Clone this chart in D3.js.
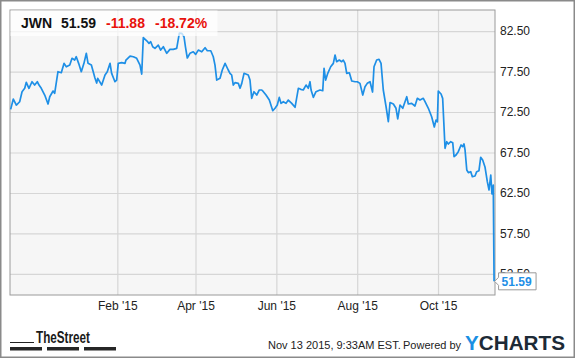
<!DOCTYPE html>
<html>
<head>
<meta charset="utf-8">
<script src="https://cdn.jsdelivr.net/npm/d3@7"></script>
<style>
  body { margin: 0; background: #fff; }
  svg { display: block; font-family: "Liberation Sans", Arial, sans-serif; }
</style>
</head>
<body>
<div id="chart"></div>
<script>
const ticker = "JWN";
const lastPrice = 51.59;
const change = -11.88;
const changePct = -18.72;
const stamp = "Nov 13 2015, 9:33AM EST.";

// one year window, offsets in days from the start
const startDate = new Date(2014, 10, 12);
const endDate = new Date(2015, 10, 13);

const dayOffsets = [
  0.5, 2.5, 4.8, 7.3, 9.1, 11.1, 12.3, 14.3, 16.6, 18.6,
  20.6, 21.9, 23.6, 26.2, 28.7, 30.0, 32.5, 33.7, 36.2, 38.7,
  40.8, 42.5, 45.1, 46.8, 48.8, 50.0, 51.8, 53.8, 55.8, 57.6,
  58.9, 61.4, 64.1, 65.4, 66.2, 69.2, 71.7, 73.4, 75.5, 76.7,
  79.2, 80.5, 81.7, 84.3, 86.8, 87.5, 90.6, 93.1, 95.6, 98.1,
  99.4, 100.6, 103.2, 104.9, 106.2, 107.7, 109.4, 111.9, 113.7, 115.7,
  118.3, 120.7, 123.2, 125.8, 127.8, 129.6, 131.3, 132.4, 133.8, 135.8,
  138.3, 140.1, 142.1, 144.7, 147.2, 148.9, 151.5, 153.4, 154.7, 156.0,
  158.5, 160.2, 162.3, 164.7, 166.0, 167.3, 168.5, 169.8, 172.3, 173.6,
  174.9, 176.6, 179.8, 181.1, 182.4, 184.1, 186.2, 188.1, 190.0, 191.2,
  193.2, 195.7, 198.3, 200.0, 201.7, 203.2, 204.5, 206.3, 208.3, 210.0,
  212.6, 215.1, 217.6, 219.4, 221.3, 223.4, 225.1, 226.4, 227.2, 228.9,
  230.9, 233.9, 236.0, 237.0, 238.2, 239.8, 242.0, 244.0, 245.3, 246.5,
  248.5, 250.3, 251.5, 252.8, 254.1, 256.1, 257.9, 260.4, 262.1, 264.1,
  266.2, 267.9, 269.6, 271.7, 273.6, 274.7, 276.7, 278.5, 280.0, 281.7,
  283.8, 285.5, 286.8, 289.3, 291.3, 292.6, 294.3, 296.4, 299.4, 300.6,
  303.1, 305.6, 307.4, 309.4, 311.9, 313.2, 315.7, 318.2, 320.2, 321.5,
  322.5, 323.2, 325.3, 326.5, 328.3, 329.6, 330.8, 332.6, 334.1, 335.1,
  336.6, 338.3, 340.4, 341.6, 342.6, 343.4, 344.7, 345.9, 347.7, 348.9,
  350.9, 352.2, 353.9, 355.2, 356.7, 358.5, 360.2, 361.5, 362.8, 363.7,
  364.3, 364.7, 365.3
];

const prices = [
  72.83, 74.10, 73.36, 73.77, 75.01, 75.43, 76.17, 75.43, 76.24, 75.83,
  76.24, 75.83, 75.43, 74.60, 73.49, 74.39, 75.09, 74.81, 77.48, 77.35,
  78.51, 78.09, 78.30, 79.13, 78.92, 79.33, 78.51, 77.48, 78.51, 79.75,
  78.51, 78.30, 76.70, 76.08, 76.66, 75.83, 77.07, 77.48, 78.51, 77.28,
  76.24, 76.45, 78.51, 78.59, 78.51, 78.92, 79.41, 79.33, 79.13, 78.30,
  77.19, 81.70, 81.30, 80.98, 81.18, 80.56, 80.36, 80.77, 80.15, 80.56,
  79.75, 80.24, 80.24, 80.36, 82.25, 82.22, 81.80, 80.56, 79.17, 79.75,
  79.94, 79.62, 80.15, 79.94, 80.44, 80.07, 80.07, 79.33, 78.30, 76.45,
  76.66, 77.69, 78.51, 77.69, 77.28, 77.07, 75.83, 76.12, 76.04, 75.43,
  76.04, 77.28, 77.07, 76.45, 74.19, 75.01, 74.60, 75.22, 75.22, 75.01,
  74.60, 73.98, 72.66, 72.96, 73.36, 74.31, 73.57, 73.77, 73.57, 73.98,
  73.57, 73.08, 75.43, 75.30, 75.22, 75.83, 75.43, 76.24, 75.22, 74.31,
  75.01, 75.22, 75.13, 77.90, 76.45, 77.28, 78.09, 78.51, 79.54, 78.71,
  78.92, 78.71, 78.92, 78.51, 77.28, 77.35, 76.33, 76.24, 76.24, 76.04,
  74.60, 75.62, 76.04, 76.24, 74.97, 78.09, 78.92, 79.01, 78.51, 75.22,
  73.15, 71.30, 73.67, 73.49, 72.96, 71.64, 73.36, 72.96, 74.39, 73.49,
  73.57, 73.24, 74.19, 73.98, 74.19, 73.77, 72.96, 71.92, 70.65, 71.51,
  71.30, 75.09, 74.72, 74.19, 68.02, 68.83, 68.55, 68.83, 68.71, 66.98,
  67.19, 67.60, 68.43, 68.22, 68.55, 67.81, 65.34, 65.01, 65.13, 64.51,
  64.60, 65.13, 65.25, 66.91, 66.57, 65.67, 63.90, 62.87, 64.72, 62.38,
  63.00, 63.47, 51.59
];

const yTicks = [52.5, 57.5, 62.5, 67.5, 72.5, 77.5, 82.5];
const xTicks = ["2015-02-01", "2015-04-01", "2015-06-01", "2015-08-01", "2015-10-01"];

const W = 575, H = 358;
const margin = {top: 10, right: 80, bottom: 63, left: 10},
    width = W - margin.left - margin.right,
    height = H - margin.top - margin.bottom;

const parseDay = d3.timeParse("%Y-%m-%d");
const data = prices.map((p, i) => ({
  date: new Date(startDate.getTime() + dayOffsets[i] * 864e5),
  price: p
}));

const root = d3.select("#chart").append("svg")
    .attr("width", W)
    .attr("height", H);

root.append("rect")
    .attr("x", 0.75).attr("y", 0.75)
    .attr("width", W - 1.5).attr("height", H - 1.5)
    .attr("fill", "#fff")
    .attr("stroke", "#8a8a8a")
    .attr("stroke-width", 1.5);

const svg = root.append("g")
    .attr("transform", `translate(${margin.left},${margin.top})`);

const x = d3.scaleTime()
    .domain([startDate, endDate])
    .range([0, width]);

const y = d3.scaleLinear()
    .domain([49.9, 85.1])
    .range([height, 0]);

svg.append("rect")
    .attr("width", width).attr("height", height)
    .attr("fill", "#f6f6f6");

// grid
svg.append("g")
    .call(d3.axisLeft(y).tickValues(yTicks).tickSize(-width).tickFormat(""))
    .call(g => g.select(".domain").remove())
    .call(g => g.selectAll("line").attr("stroke", "#d6d6d6").attr("stroke-width", 1.2));

svg.append("g")
    .attr("transform", `translate(0,${height})`)
    .call(d3.axisBottom(x).tickValues(xTicks.map(parseDay)).tickSize(height).tickFormat(""))
    .call(g => g.select(".domain").remove())
    .call(g => g.selectAll("line").attr("transform", `translate(0,${-height})`)
        .attr("stroke", "#d6d6d6").attr("stroke-width", 1.2));

// labels
svg.append("g")
    .attr("transform", `translate(${width},0)`)
    .call(d3.axisRight(y).tickValues(yTicks).tickSize(0).tickPadding(5).tickFormat(d3.format(".2f")))
    .call(g => g.select(".domain").remove())
    .call(g => g.selectAll("text").attr("font-size", 12).attr("fill", "#222")
        .attr("font-family", '"Liberation Sans", Arial, sans-serif'));

svg.append("g")
    .attr("transform", `translate(0,${height})`)
    .call(d3.axisBottom(x).tickValues(xTicks.map(parseDay)).tickSize(0).tickPadding(6)
        .tickFormat(d3.timeFormat("%b '%y")))
    .call(g => g.select(".domain").remove())
    .call(g => g.selectAll("text").attr("font-size", 12).attr("fill", "#222")
        .attr("font-family", '"Liberation Sans", Arial, sans-serif'));

svg.append("rect")
    .attr("width", width).attr("height", height)
    .attr("fill", "none")
    .attr("stroke", "#9a9a9a");

svg.append("path")
    .datum(data)
    .attr("fill", "none")
    .attr("stroke", "#1e8fe6")
    .attr("stroke-width", 1.7)
    .attr("stroke-linejoin", "round")
    .attr("d", d3.line()
      .x(function(d) { return x(d.date) })
      .y(function(d) { return y(d.price) })
      );

// header box
svg.append("rect")
    .attr("x", 0.5).attr("y", 0.5)
    .attr("width", 207).attr("height", 25.5)
    .attr("fill", "#fff").attr("opacity", 0.72);

const head = svg.append("text")
    .attr("y", 18)
    .attr("font-size", 14)
    .attr("font-weight", "bold");
head.append("tspan").attr("x", 11).attr("fill", "#111").text(ticker);
head.append("tspan").attr("x", 51).attr("fill", "#111").text(lastPrice.toFixed(2));
head.append("tspan").attr("x", 96).attr("fill", "#e8120c").text(change.toFixed(2));
head.append("tspan").attr("x", 145).attr("fill", "#e8120c").text(changePct.toFixed(2) + "%");

// last price flag
const ly = y(lastPrice);
const lx = x(data[data.length - 1].date);
svg.append("path")
    .attr("d", `M${lx + 0.5},${ly} L${lx + 4.5},${ly - 4} L${lx + 4.5},${ly - 8.5} L${lx + 42},${ly - 8.5} L${lx + 42},${ly + 8.5} L${lx + 4.5},${ly + 8.5} L${lx + 4.5},${ly + 4} Z`)
    .attr("fill", "#fff")
    .attr("stroke", "#9a9a9a");
svg.append("text")
    .attr("x", lx + 7.5).attr("y", ly + 4.5)
    .attr("font-size", 12).attr("font-weight", "bold")
    .attr("fill", "#1e8fe6")
    .text(lastPrice.toFixed(2));

// footer
root.append("line")
    .attr("x1", 10).attr("x2", 34).attr("y1", 342.5).attr("y2", 342.5)
    .attr("stroke", "#222");
root.append("text")
    .attr("x", 36).attr("y", 342.5)
    .attr("font-family", '"Liberation Sans Narrow", "Liberation Sans", Arial, sans-serif')
    .attr("font-weight", "bold").attr("font-size", 17)
    .attr("textLength", 54).attr("lengthAdjust", "spacingAndGlyphs")
    .attr("fill", "#1a1a1a")
    .text("TheStreet");
root.selectAll("rect.bar")
    .data([[10, 42], [47, 79], [84, 116]])
  .enter().append("rect")
    .attr("class", "bar")
    .attr("x", d => d[0]).attr("width", d => d[1] - d[0])
    .attr("y", 347).attr("height", 3.5)
    .attr("fill", "#262626");

root.append("text")
    .attr("x", 268).attr("y", 349)
    .attr("font-size", 11).attr("fill", "#222")
    .text(stamp);
root.append("text")
    .attr("x", 403).attr("y", 349)
    .attr("font-size", 11).attr("fill", "#222")
    .text("Powered by");
const yc = root.append("text")
    .attr("x", 465).attr("y", 349.5)
    .attr("font-size", 20).attr("font-weight", "bold")
    .attr("textLength", 100).attr("lengthAdjust", "spacingAndGlyphs");
yc.append("tspan").attr("fill", "#1a8fe3").text("Y");
yc.append("tspan").attr("fill", "#1d2a36").text("CHARTS");
</script>
</body>
</html>
